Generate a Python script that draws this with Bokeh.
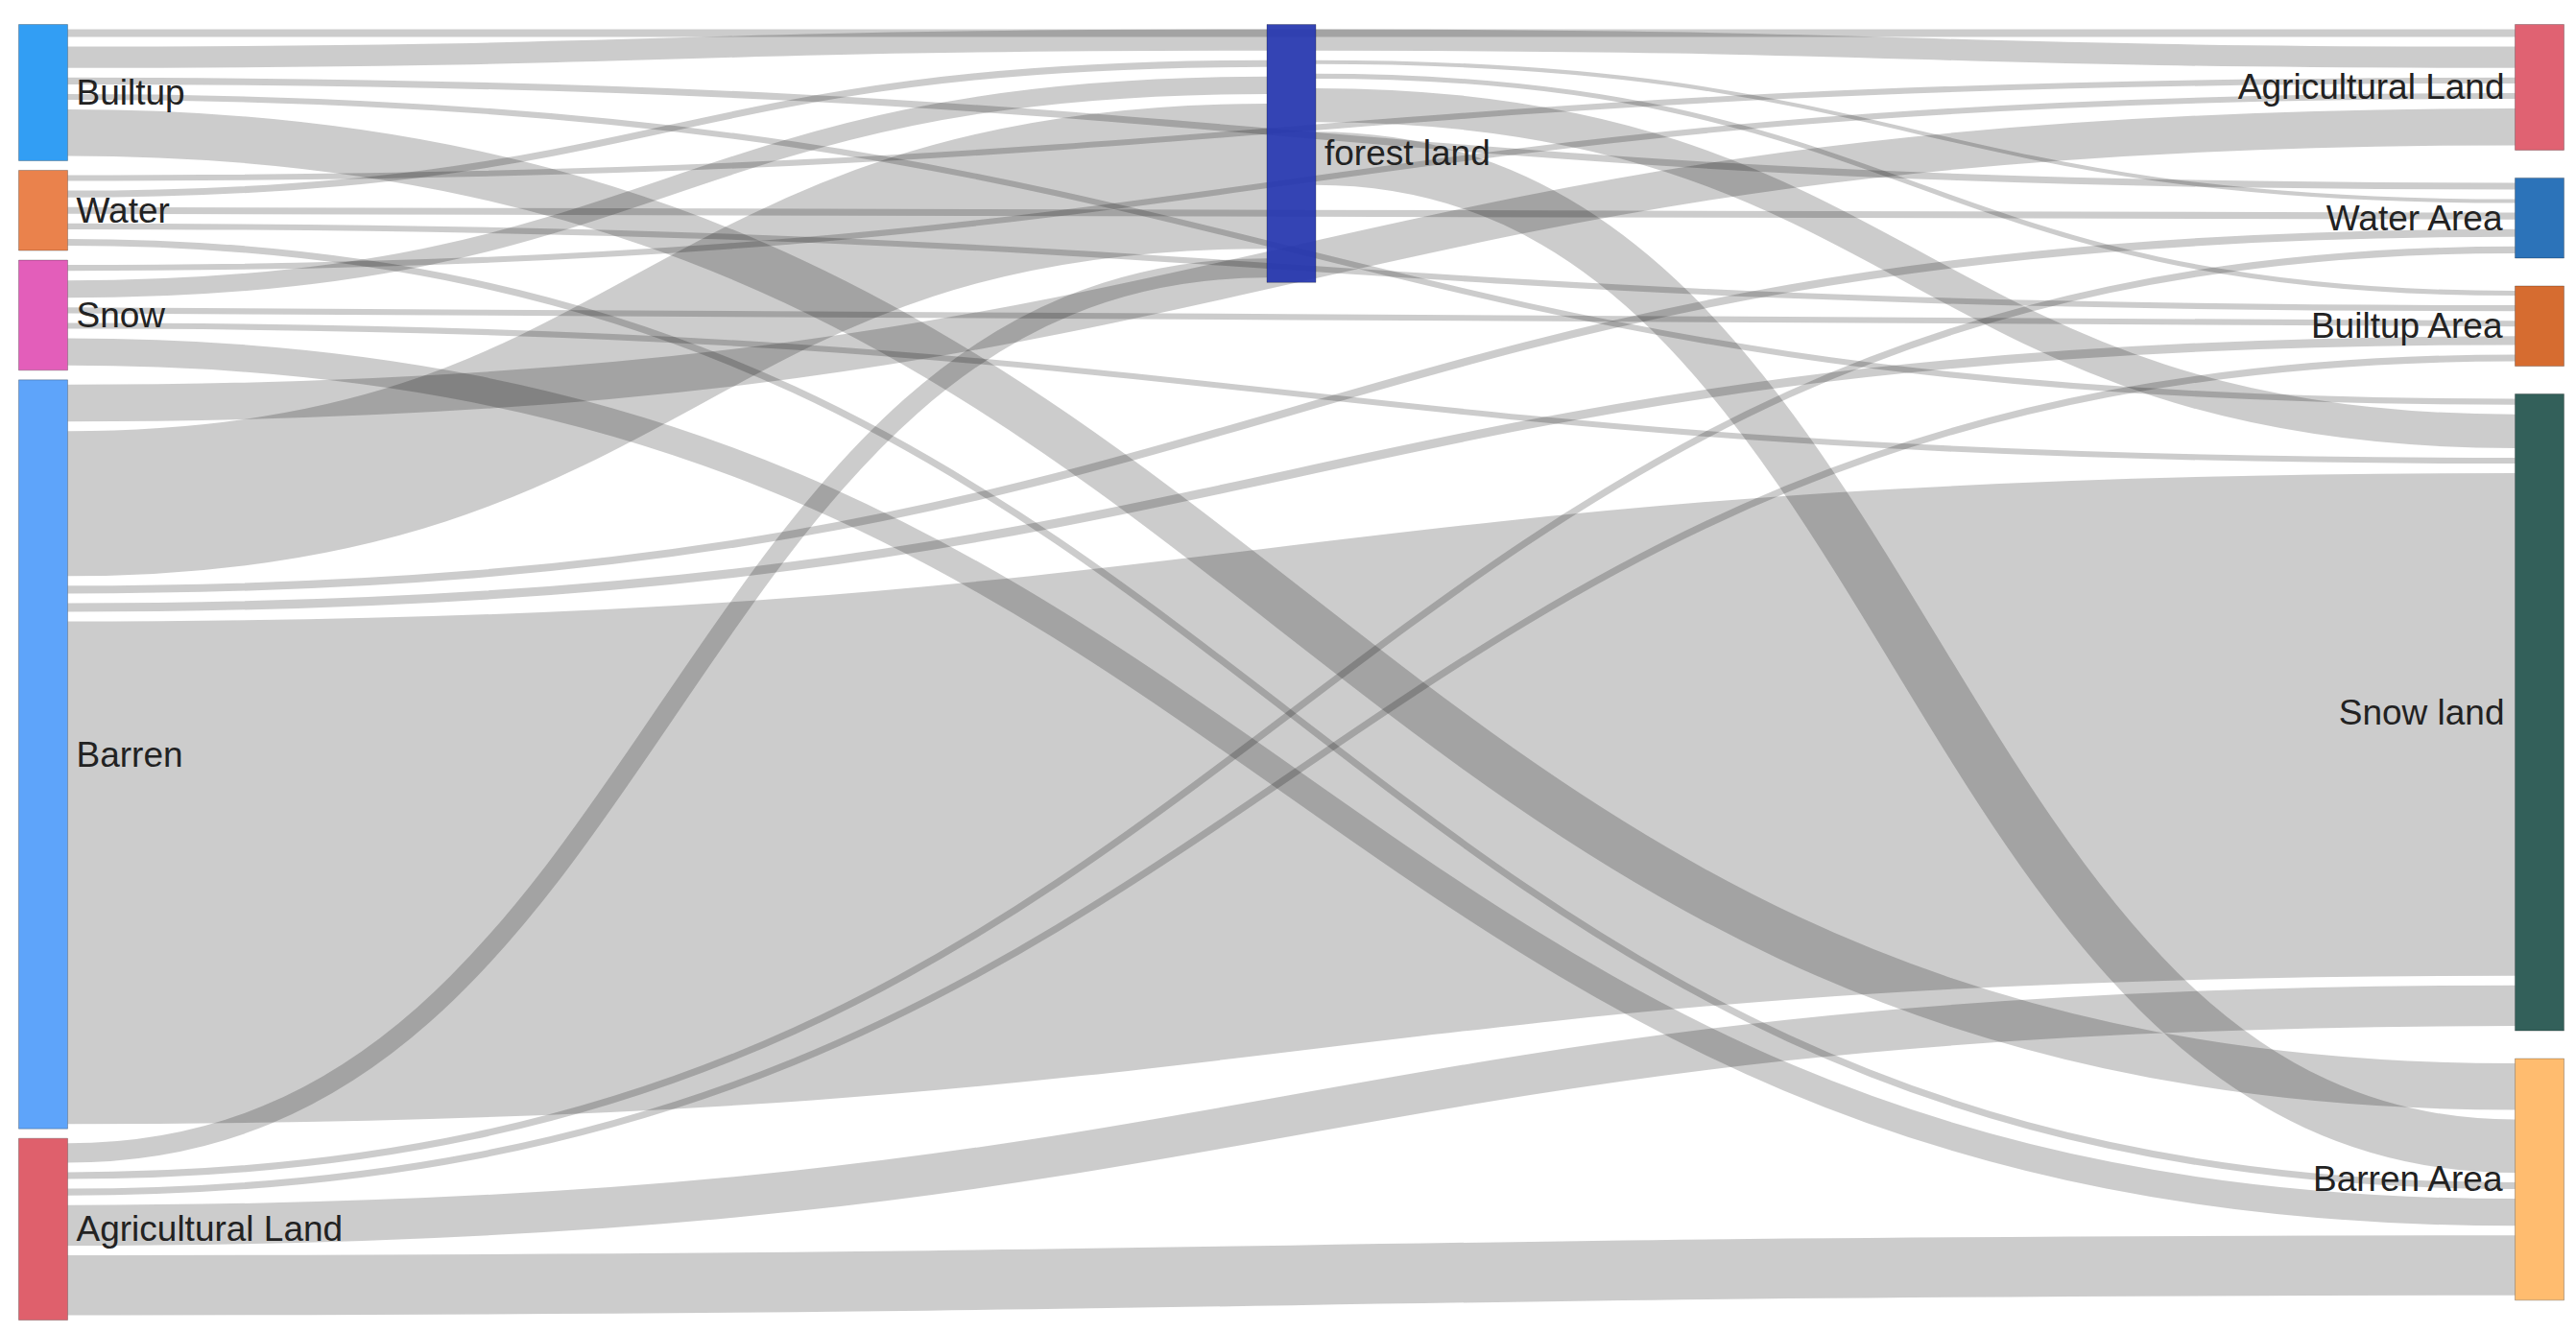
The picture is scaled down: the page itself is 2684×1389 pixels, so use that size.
from bokeh.plotting import figure
from bokeh.models import Range1d, ColumnDataSource
from bokeh.embed import file_html
from bokeh.resources import INLINE
from bokeh.core.properties import value

# ---------------- data ----------------
node_ids = ["B", "W", "S", "Ba", "A", "F", "AL", "WA", "BA", "SL", "BrA"]
node_labels = ["Builtup", "Water", "Snow", "Barren", "Agricultural Land", "forest land",
               "Agricultural Land", "Water Area", "Builtup Area", "Snow land", "Barren Area"]
node_columns = [0, 0, 0, 0, 0, 1, 2, 2, 2, 2, 2]
node_colors = ["#2196f3", "#e8773d", "#e150b4", "#509cfa", "#dc5360", "#2334ae",
               "#dd5566", "#1a67b3", "#d2601e", "#22524c", "#ffb663"]

link_source = ["B", "B", "B", "B", "B",
               "W", "W", "W", "W", "W",
               "S", "S", "S", "S", "S",
               "Ba", "Ba", "Ba", "Ba", "Ba",
               "A", "A", "A", "A", "A",
               "F", "F", "F", "F", "F"]
link_target = ["AL", "F", "WA", "SL", "BrA",
               "AL", "F", "WA", "BA", "BrA",
               "AL", "F", "BA", "SL", "BrA",
               "AL", "F", "WA", "BA", "SL",
               "F", "WA", "BA", "SL", "BrA",
               "AL", "WA", "BA", "SL", "BrA"]
link_value = [18, 32, 17, 16, 58,
              16, 17, 17, 16, 17,
              16, 28, 16, 16, 38,
              48, 160, 18, 19, 530,
              30, 17, 17, 52, 72,
              32, 14, 15, 45, 65]

# ---------------- layout ----------------
PW, PH = 2684, 1389
OX, OY = 0, 0
TOP, BOTTOM = 25, 1375
X_LEFT, X_RIGHT = 19, 2671
NODE_W = 51
COL_PAD = [10, 10, 29]   # vertical padding between nodes, per column
LINK_GAP = 10

n = len(node_ids)
idx = {k: i for i, k in enumerate(node_ids)}
in_sum = [0.0] * n
out_sum = [0.0] * n
for s, t, v in zip(link_source, link_target, link_value):
    out_sum[idx[s]] += v
    in_sum[idx[t]] += v
node_val = [max(a, b) for a, b in zip(in_sum, out_sum)]

ncols = max(node_columns) + 1
cols = {c: [i for i in range(n) if node_columns[i] == c] for c in range(ncols)}
H = BOTTOM - TOP
ky = min((H - (len(m) - 1) * COL_PAD[c]) / sum(node_val[i] for i in m)
         for c, m in cols.items())

nx0 = [0.0] * n
ny0 = [0.0] * n
ny1 = [0.0] * n
for c, members in cols.items():
    x0 = X_LEFT + c * (X_RIGHT - NODE_W - X_LEFT) / (ncols - 1)
    y = TOP
    for i in members:
        h = node_val[i] * ky
        nx0[i] = x0
        ny0[i] = y
        ny1[i] = y + h
        y += h + COL_PAD[c]

center = [(a + b) / 2 for a, b in zip(ny0, ny1)]
L = len(link_value)
src_y = [0.0] * L
tgt_y = [0.0] * L
for i in range(n):
    outs = sorted([k for k in range(L) if idx[link_source[k]] == i],
                  key=lambda k: center[idx[link_target[k]]])
    y = ny0[i]
    for k in outs:
        h = link_value[k] * ky
        src_y[k] = y + h / 2
        y += h
    ins = sorted([k for k in range(L) if idx[link_target[k]] == i],
                 key=lambda k: center[idx[link_source[k]]])
    y = ny0[i]
    for k in ins:
        h = link_value[k] * ky
        tgt_y[k] = y + h / 2
        y += h

lx0, lx1, lcx, lw = [], [], [], []
for k in range(L):
    a = nx0[idx[link_source[k]]] + NODE_W
    b = nx0[idx[link_target[k]]]
    lx0.append(a)
    lx1.append(b)
    lcx.append((a + b) / 2)
    lw.append(max(link_value[k] * ky - LINK_GAP, 1.5))

links = ColumnDataSource(dict(x0=lx0, y0=src_y, x1=lx1, y1=tgt_y, cx=lcx, w=lw))
nodes = ColumnDataSource(dict(
    left=nx0, right=[x + NODE_W for x in nx0], top=ny0, bottom=ny1, color=node_colors))

# ---------------- figure ----------------
p = figure(width=PW, height=PH, output_backend="svg", toolbar_location=None,
           x_range=Range1d(OX, OX + PW), y_range=Range1d(OY + PH, OY),
           x_axis_type=None, y_axis_type=None, min_border=0,
           background_fill_color="white", border_fill_color="white")
p.outline_line_color = None
p.grid.visible = False

p.bezier(x0="x0", y0="y0", x1="x1", y1="y1", cx0="cx", cy0="y0", cx1="cx", cy1="y1",
         line_width="w", line_color="black", line_alpha=0.2, source=links)

p.quad(left="left", right="right", top="top", bottom="bottom", fill_color="color",
       fill_alpha=0.92, line_color="black", line_alpha=0.25, line_width=1, source=nodes)

lab_l_x, lab_l_y, lab_l_t = [], [], []
lab_r_x, lab_r_y, lab_r_t = [], [], []
for i in range(n):
    if node_columns[i] < ncols - 1:
        lab_l_x.append(nx0[i] + NODE_W + 9)
        lab_l_y.append(center[i])
        lab_l_t.append(node_labels[i])
    else:
        lab_r_x.append(nx0[i] - 11)
        lab_r_y.append(center[i])
        lab_r_t.append(node_labels[i])

common = dict(text_font=value("Liberation Sans"), text_font_size="37px",
              text_baseline="middle", text_color="#222222")
p.text(x=lab_l_x, y=lab_l_y, text=lab_l_t, text_align="left", **common)
p.text(x=lab_r_x, y=lab_r_y, text=lab_r_t, text_align="right", **common)

open("out.html", "w").write(file_html(p, INLINE))
